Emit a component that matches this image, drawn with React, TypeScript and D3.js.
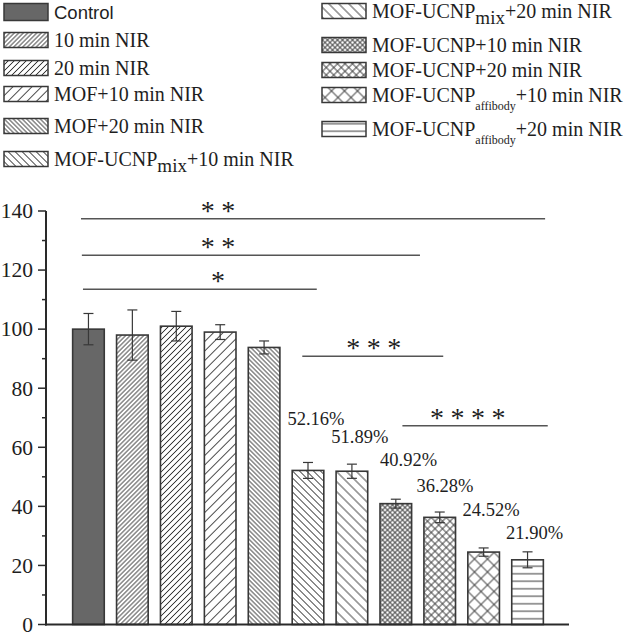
import React from "react";
import * as d3 from "d3";

const categories = [
  "Control",
  "10 min NIR",
  "20 min NIR",
  "MOF+10 min NIR",
  "MOF+20 min NIR",
  "MOF-UCNPmix+10 min NIR",
  "MOF-UCNPmix+20 min NIR",
  "MOF-UCNP+10 min NIR",
  "MOF-UCNP+20 min NIR",
  "MOF-UCNPaffibody+10 min NIR",
  "MOF-UCNPaffibody+20 min NIR",
];
const means = [100, 98, 101, 99, 93.8, 52.16, 51.89, 40.92, 36.28, 24.52, 21.9];
const errors = [5.3, 8.5, 5, 2.5, 2.2, 2.7, 2.4, 1.5, 1.8, 1.4, 2.7];

// legend label parts: main, subscript, rest
const legendMain = ["Control", "10 min NIR", "20 min NIR", "MOF+10 min NIR", "MOF+20 min NIR", "MOF-UCNP", "MOF-UCNP", "MOF-UCNP+10 min NIR", "MOF-UCNP+20 min NIR", "MOF-UCNP", "MOF-UCNP"];
const legendSub = ["", "", "", "", "", "mix", "mix", "", "", "affibody", "affibody"];
const legendRest = ["", "", "", "", "", "+10 min NIR", "+20 min NIR", "", "", "+10 min NIR", "+20 min NIR"];

const yTicks = [0, 20, 40, 60, 80, 100, 120, 140];
const yMinorTicks = [10, 30, 50, 70, 90, 110, 130];

// percentage labels (bar index, text, baseline value, x offset in bar steps)
const pctBars = [5, 6, 7, 8, 9, 10];
const pctTexts = ["52.16%", "51.89%", "40.92%", "36.28%", "24.52%", "21.90%"];
const pctY = [67.6, 61.5, 53.5, 45.0, 36.8, 28.9];
const pctDx = [0.18, 0.18, 0.29, 0.12, 0.17, 0.16];

// significance lines: from/to in bar-index units, level in value units, stars
const sigFrom = [-0.17, -0.15, -0.125, 4.87, 7.15];
const sigTo = [10.4, 7.55, 5.2, 8.08, 10.46];
const sigLevel = [137.4, 125.0, 113.5, 90.8, 67.3];
const sigStarX = [2.95, 2.95, 2.95, 6.5, 8.64];
const sigStars = [2, 2, 1, 3, 4];

// pattern specs: type and vertical spacing
const patType = ["solid", "fwd", "fwd", "fwd", "back", "back", "back", "cross", "cross", "cross", "horiz"];
const patSpacing = [0, 4.5, 6, 9.5, 4.5, 7, 10, 5, 7.5, 13, 7.5];

const W = 625;
const H = 634;
const axisX = 46;
const axisRight = 569;
const y0 = 624.5;
const y140 = 211;

const INK = "#383838";
const SERIF = "Liberation Serif";
const SANS = "Liberation Sans";

function Pattern({ i }: { i: number }) {
  const t = patType[i];
  const v = patSpacing[i];
  if (t === "solid") return null;
  const id = `pat${i}`;
  if (t === "horiz") {
    return (
      <pattern id={id} patternUnits="userSpaceOnUse" width={10} height={v}>
        <rect width={10} height={v} fill="#fff" />
        <line x1={0} x2={10} y1={v / 2} y2={v / 2} stroke={INK} strokeWidth={1} />
      </pattern>
    );
  }
  const d = v / Math.SQRT2;
  const rot = t === "fwd" ? -45 : 45;
  return (
    <pattern id={id} patternUnits="userSpaceOnUse" width={d} height={d} patternTransform={`rotate(${t === "cross" ? 45 : rot})`}>
      <rect width={d} height={d} fill="#fff" />
      <line x1={0} x2={d} y1={d / 2} y2={d / 2} stroke={INK} strokeWidth={0.9} />
      {t === "cross" && <line x1={d / 2} x2={d / 2} y1={0} y2={d} stroke={INK} strokeWidth={0.9} />}
    </pattern>
  );
}

function fillFor(i: number) {
  return patType[i] === "solid" ? "#676767" : `url(#pat${i})`;
}

export default function App() {
  const x = d3
    .scaleBand<string>()
    .domain(categories)
    .range([66.5, 549.5])
    .paddingInner(0.28)
    .paddingOuter(0.14);
  const y = d3.scaleLinear().domain([0, 140]).range([y0, y140]);
  const bw = x.bandwidth();
  const step = x.step();
  const xi = (v: number) => (x(categories[0]) as number) + bw / 2 + v * step;

  const leftRows = [0, 1, 2, 3, 4, 5];
  const rightRows = [6, 7, 8, 9, 10];
  const leftY = [12, 40, 68, 94, 126, 159];
  const rightY = [11, 45, 70, 95, 129];

  const legendItem = (i: number, sx: number, cy: number) => {
    const h = i === 0 ? 17 : 15;
    const tx = sx + 50;
    return (
      <g key={`leg${i}`}>
        <rect x={sx} y={cy - h / 2} width={44} height={h} fill={fillFor(i)} stroke={INK} strokeWidth={1.5} />
        {i === 0 ? (
          <text x={tx} y={cy + 6.5} fontFamily={SANS} fontSize={18.5} fill="#1e1e1e">
            {legendMain[i]}
          </text>
        ) : (
          <text x={tx} y={cy + 6.5} fontFamily={SERIF} fontSize={20} fill="#1e1e1e">
            {legendMain[i]}
            {legendSub[i] && (
              <tspan dy={legendSub[i] === "mix" ? 6 : 8} fontSize={legendSub[i] === "mix" ? 19 : 12}>
                {legendSub[i]}
              </tspan>
            )}
            {legendRest[i] && <tspan dy={legendSub[i] === "mix" ? -6 : -8}>{legendRest[i]}</tspan>}
          </text>
        )}
      </g>
    );
  };

  return (
    <svg width={W} height={H} style={{ position: "absolute", left: 0, top: 0, background: "#fff" }}>
      <defs>
        {categories.map((_, i) => (
          <Pattern key={i} i={i} />
        ))}
      </defs>
      <rect width={W} height={H} fill="#fff" />

      {/* legend */}
      {leftRows.map((i, k) => legendItem(i, 4, leftY[k]))}
      {rightRows.map((i, k) => legendItem(i, 322, rightY[k]))}

      {/* bars */}
      {categories.map((c, i) => (
        <rect
          key={c}
          x={x(c)}
          y={y(means[i])}
          width={bw}
          height={y(0) - y(means[i])}
          fill={fillFor(i)}
          stroke={INK}
          strokeWidth={1.6}
        />
      ))}

      {/* error bars */}
      {categories.map((c, i) => {
        const cx = (x(c) as number) + bw / 2;
        const t = y(means[i] + errors[i]);
        const b = y(means[i] - errors[i]);
        return (
          <g key={`e${i}`} stroke={INK} strokeWidth={1.2}>
            <line x1={cx} x2={cx} y1={t} y2={b} />
            <line x1={cx - 5} x2={cx + 5} y1={t} y2={t} />
            <line x1={cx - 5} x2={cx + 5} y1={b} y2={b} />
          </g>
        );
      })}

      {/* axes */}
      <line x1={axisX} x2={axisX} y1={y(140)} y2={y(0) + 1} stroke="#2a2a2a" strokeWidth={2} />
      <line x1={axisX - 1} x2={axisRight} y1={y(0)} y2={y(0)} stroke="#2a2a2a" strokeWidth={2} />
      {yTicks.map((t) => (
        <g key={`t${t}`}>
          <line x1={axisX - 8} x2={axisX} y1={y(t)} y2={y(t)} stroke="#2a2a2a" strokeWidth={1.5} />
          <text x={axisX - 13} y={y(t)} dy="0.34em" textAnchor="end" fontFamily={SERIF} fontSize={21.5} fill="#1e1e1e">
            {t}
          </text>
        </g>
      ))}
      {yMinorTicks.map((t) => (
        <line key={`m${t}`} x1={axisX - 4} x2={axisX} y1={y(t)} y2={y(t)} stroke="#2a2a2a" strokeWidth={1.5} />
      ))}

      {/* percentage labels */}
      {pctBars.map((b, k) => (
        <text
          key={`p${k}`}
          x={xi(b + pctDx[k])}
          y={y(pctY[k])}
          textAnchor="middle"
          fontFamily={SERIF}
          fontSize={18.5}
          fill="#1e1e1e"
        >
          {pctTexts[k]}
        </text>
      ))}

      {/* significance lines */}
      {sigFrom.map((f, k) => {
        const ly = y(sigLevel[k]);
        const n = sigStars[k];
        const gap = 20.5;
        return (
          <g key={`s${k}`}>
            <line x1={xi(f)} x2={xi(sigTo[k])} y1={ly} y2={ly} stroke="#555" strokeWidth={1.4} />
            {d3.range(n).map((j) => (
              <text
                key={j}
                x={xi(sigStarX[k]) + (j - (n - 1) / 2) * gap}
                y={ly + 1}
                textAnchor="middle"
                fontFamily={SERIF}
                fontSize={28}
                fill="#1e1e1e"
              >
                *
              </text>
            ))}
          </g>
        );
      })}
    </svg>
  );
}
